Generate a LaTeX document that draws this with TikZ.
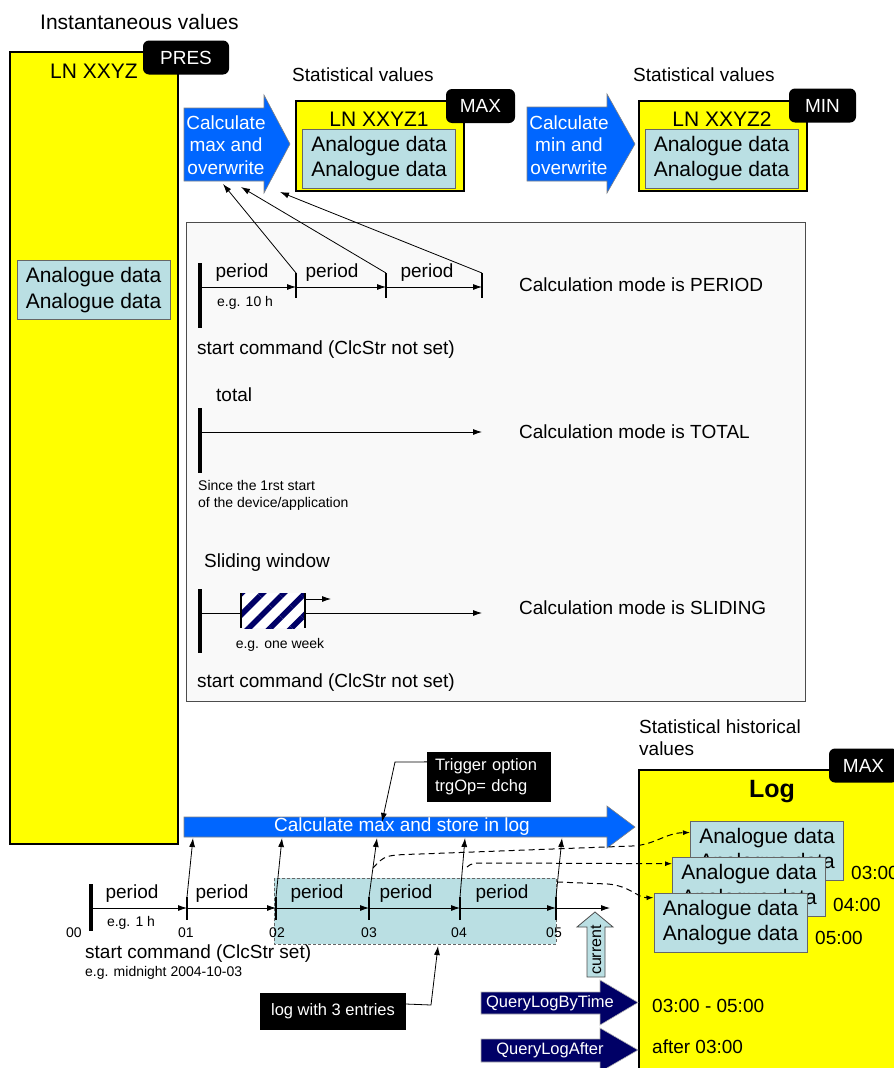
\documentclass[tikz,border=0pt]{standalone}
\usepackage{fontspec}
\setmainfont{Liberation Sans}
\usetikzlibrary{arrows.meta}
\usetikzlibrary{patterns.meta}
\usetikzlibrary{calc}
\tikzset{>={Latex[width=6pt,length=9pt]}}

\definecolor{lnyellow}{RGB}{255,255,0}
\definecolor{datacyan}{RGB}{186,223,227}
\definecolor{calcblue}{RGB}{0,102,255}
\definecolor{querynavy}{RGB}{0,0,102}
\definecolor{panelgray}{RGB}{249,249,249}

\tikzset{
  txt/.style={inner sep=0pt, font=\fontsize{19}{22.5}\selectfont},
  bigtxt/.style={inner sep=0pt, font=\fontsize{21}{25.5}\selectfont},
  smalltxt/.style={inner sep=0pt, font=\fontsize{14}{17}\selectfont},
  lnbox/.style={draw=black, line width=1.5pt, fill=lnyellow},
  databox/.style={draw=black!60, line width=1pt, fill=datacyan, bigtxt, align=center,
                  minimum width=153pt, minimum height=59pt},
  tagbox/.style={fill=black, rounded corners=6pt, text=white, txt, minimum height=34pt},
  notebox/.style={fill=black, text=white, inner sep=0pt, align=left,
                  font=\fontsize{16.5}{21}\selectfont},
  blockarrow/.style={fill=calcblue, draw=black!50, line width=0.6pt},
  queryarrow/.style={fill=querynavy, draw=black!30, line width=0.6pt},
  startbar/.style={line width=4pt},
  tickmark/.style={line width=1.8pt},
  axis/.style={line width=0.8pt},
  logline/.style={dashed, dash pattern=on 6pt off 4pt, line width=1pt,
                  -{Latex[width=5pt,length=7pt]}}
}

\begin{document}
\begin{tikzpicture}[x=1pt,y=-1pt]
  \useasboundingbox (0,0) rectangle (894,1068);

  % instantaneous values
  \node[bigtxt, anchor=west] (instlbl) at (40,22) {Instantaneous values};
  \draw[lnbox] (10,52) rectangle (178,844);
  \node[bigtxt] (lnmain) at (94,71) {LN XXYZ};
  \node[tagbox, minimum width=86pt] (pres) at (186,57.5) {PRES};
  \node[databox] (instdata) at (93.5,290) {Analogue data\\Analogue data};

  % statistical values, max
  \filldraw[blockarrow] (184,108) -- (264,108) -- (264,95) -- (290,144) -- (264,193) -- (264,181) -- (184,181) -- cycle;
  \node[txt, text=white, align=center] (calcmax) at (226,145) {Calculate\\max and\\overwrite};
  \node[txt, anchor=west] (statlblA) at (292,75) {Statistical values};
  \draw[lnbox] (296,101) rectangle (464,191);
  \node[bigtxt] (lnmax) at (379,119) {LN XXYZ1};
  \node[tagbox, minimum width=69pt] (maxtag) at (480.5,106) {MAX};
  \node[databox] (maxdata) at (379,158.5) {Analogue data\\Analogue data};

  % statistical values, min
  \filldraw[blockarrow] (527,107) -- (607,107) -- (607,94) -- (635,144) -- (607,193) -- (607,181) -- (527,181) -- cycle;
  \node[txt, text=white, align=center] (calcmin) at (569,145) {Calculate\\min and\\overwrite};
  \node[txt, anchor=west] (statlblB) at (633,75) {Statistical values};
  \draw[lnbox] (639,101) rectangle (807,191);
  \node[bigtxt] (lnmin) at (722,119) {LN XXYZ2};
  \node[tagbox, minimum width=67pt] (mintag) at (822.5,105.5) {MIN};
  \node[databox] (mindata) at (721.5,158.5) {Analogue data\\Analogue data};

  % calculation modes
  \draw[draw=black!70, fill=panelgray, line width=0.8pt] (186,222) rectangle (805,701);

  % period
  \coordinate (pstart) at (200,287);
  \coordinate (pa) at (296,287);
  \coordinate (pb) at (386,287);
  \coordinate (pc) at (482,287);
  \draw[startbar] (200,263) -- (200,328);
  \draw[axis,->] (pstart) -- (pa);
  \draw[axis,->] (pa) -- (pb);
  \draw[axis,->] (pb) -- (pc);
  \foreach \x/\n in {296/pa, 386/pb, 482/pc}
    \draw[tickmark] (\x,273) coordinate (\n-top) -- (\x,298);
  \node[txt] (perA) at (242,273) {period};
  \node[txt] (perB) at (332,273) {period};
  \node[txt] (perC) at (427,273) {period};
  \node[smalltxt, anchor=west] (per10h) at (217,303) {e.g. 10 h};
  \node[txt, anchor=west] (perstart) at (197,350) {start command (ClcStr not set)};
  \node[txt, anchor=west] (permode) at (519,285) {Calculation mode is PERIOD};

  \coordinate (calcinA) at (223,184);
  \coordinate (calcinB) at (241,187);
  \coordinate (calcinC) at (280,192);
  \draw[axis,->] (pa-top) -- (calcinA);
  \draw[axis,->] (pb-top) -- (calcinB);
  \draw[axis,->] (pc-top) -- (calcinC);

  % total
  \coordinate (tstart) at (200,432);
  \coordinate (tend) at (482,432);
  \node[txt, anchor=west] (totlbl) at (216,395) {total};
  \draw[startbar] (200,408) -- (200,473);
  \draw[axis,->] (tstart) -- (tend);
  \node[smalltxt, anchor=west, align=left] (totsince) at (198,495.5) {Since the 1rst start\\of the device/application};
  \node[txt, anchor=west] (totmode) at (519,432) {Calculation mode is TOTAL};

  % sliding
  \coordinate (sstart) at (200,613);
  \coordinate (send) at (482,613);
  \node[txt, anchor=west] (slidlbl) at (204,563) {Sliding window};
  \draw[startbar] (200,589) -- (200,653);
  \draw[axis,->] (sstart) -- (send);
  \fill[white] (241,593) rectangle (305,628);
  \fill[pattern={Lines[angle=45,distance=15pt,line width=5.5pt]}, pattern color=querynavy] (241,593) rectangle (305,628);
  \draw[line width=1.5pt] (241,593) -- (241,628);
  \draw[line width=1.5pt] (305,593) -- (305,628);
  \coordinate (winedge) at (305,599);
  \coordinate (winmove) at (331,599);
  \draw[axis,->] (winedge) -- (winmove);
  \node[smalltxt] (slidweek) at (280,645) {e.g. one week};
  \node[txt, anchor=west] (slidstart) at (197,683) {start command (ClcStr not set)};
  \node[txt, anchor=west] (slidmode) at (519,608) {Calculation mode is SLIDING};

  % statistical historical values
  \node[txt, anchor=west, align=left] (histlbl) at (639,737.5) {Statistical historical\\values};
  \draw[lnbox] (639,770) rectangle (910,1090);
  \node[tagbox, minimum width=69pt] (logmax) at (863.5,765.5) {MAX};
  \node[inner sep=0pt, font=\fontsize{25}{30}\selectfont\bfseries] (loglbl) at (772,792) {Log};
  \node[databox] (entryA) at (767,850.5) {Analogue data\\Analogue data};
  \node[databox] (entryB) at (749,886.5) {Analogue data\\Analogue data};
  \node[databox] (entryC) at (730.5,922.5) {Analogue data\\Analogue data};
  \node[txt, anchor=west] (timeA) at (851,873) {03:00};
  \node[txt, anchor=west] (timeB) at (833,905) {04:00};
  \node[txt, anchor=west] (timeC) at (815,938) {05:00};

  % log window
  \draw[fill=datacyan, draw=black!60, densely dashed, line width=0.8pt] (274,878) rectangle (556,944);

  % timeline
  \coordinate (h00) at (91,908);
  \coordinate (h01) at (187,908);
  \coordinate (h02) at (276,908);
  \coordinate (h03) at (369,908);
  \coordinate (h04) at (460,908);
  \coordinate (h05) at (556,908);
  \coordinate (hend) at (610,908);
  \draw[startbar] (91,884) -- (91,931);
  \draw[axis,->] (h00) -- (h01);
  \draw[axis,->] (h01) -- (h02);
  \draw[axis,->] (h02) -- (h03);
  \draw[axis,->] (h03) -- (h04);
  \draw[axis,->] (h04) -- (h05);
  \draw[axis,->] (h05) -- (hend);
  \foreach \x/\n in {187/h01, 276/h02, 369/h03, 460/h04, 556/h05}
    \draw[tickmark] (\x,897) coordinate (\n-top) -- (\x,920);
  \node[smalltxt] (lbl00) at (74,933) {00};
  \node[smalltxt] (lbl01) at (186,933) {01};
  \node[smalltxt] (lbl02) at (277,933) {02};
  \node[smalltxt] (lbl03) at (369,933) {03};
  \node[smalltxt] (lbl04) at (459,933) {04};
  \node[smalltxt] (lbl05) at (554,933) {05};
  \node[txt] (hperA) at (132,894) {period};
  \node[txt] (hperB) at (222,894) {period};
  \node[txt] (hperC) at (317,894) {period};
  \node[txt] (hperD) at (406,894) {period};
  \node[txt] (hperE) at (502,894) {period};
  \node[smalltxt] (h1h) at (131,923) {e.g. 1 h};
  \node[txt, anchor=west] (hstart) at (85,954) {start command (ClcStr set)};
  \node[smalltxt, anchor=west] (hmidnight) at (85,973) {e.g. midnight 2004-10-03};

  % calculate and store
  \filldraw[blockarrow] (184,817) -- (607,817) -- (607,806) -- (635,827) -- (607,848) -- (607,837) -- (184,837) -- cycle;
  \node[txt, text=white] (calcstore) at (402,827) {Calculate max and store in log};
  \coordinate (storeA) at (193,838);
  \coordinate (storeB) at (282,838);
  \coordinate (storeC) at (377,838);
  \coordinate (storeD) at (465,838);
  \coordinate (storeE) at (562,838);
  \draw[axis,->] (h01-top) -- (storeA);
  \draw[axis,->] (h02-top) -- (storeB);
  \draw[axis,->] (h03-top) -- (storeC);
  \draw[axis,->] (h04-top) -- (storeD);
  \draw[axis,->] (h05-top) -- (storeE);

  % entries into the log
  \coordinate (fromA) at (373,868);
  \coordinate (fromB) at (467,867);
  \coordinate (fromC) at (557,882);
  \draw[logline] (fromA) .. controls (385,855) .. (420,854) -- (632,846) .. controls (655,845) and (665,833) .. ($(entryA.north west)!0.2!(entryA.south west)$);
  \draw[logline] (fromB) .. controls (472,863) .. (490,863) -- ($(entryB.north west)!0.12!(entryB.south west)$);
  \draw[logline] (fromC) -- (608,884) .. controls (630,886) and (638,898) .. ($(entryC.north west)!0.085!(entryC.south west)$);

  % trigger option
  \node[notebox, minimum width=124pt, minimum height=50pt, text width=108pt] (trig) at (489,777) {Trigger option\\trgOp= dchg};
  \coordinate (trigtip) at (382,822);
  \draw[axis,->] ($(trig.north west)!0.2!(trig.south west)$) -- (395,762) -- (trigtip);

  % log with 3 entries
  \node[notebox, minimum width=146pt, minimum height=37pt, align=center] (entries) at (333,1011.5) {log with 3 entries};
  \coordinate (windowbot) at (438,946);
  \draw[axis,->] ($(entries.north east)!0.3!(entries.south east)$) -- (431,1005) -- (windowbot);

  % current
  \filldraw[fill=datacyan, draw=black!70, line width=0.8pt] (587,977) -- (587,927) -- (577,927) -- (595,912) -- (613,927) -- (605,927) -- (605,977) -- cycle;
  \node[inner sep=0pt, font=\fontsize{16}{19}\selectfont, rotate=90] (curlbl) at (596,950) {current};

  % queries
  \filldraw[queryarrow] (481,992) -- (600,992) -- (600,980) -- (638,1002.5) -- (600,1025) -- (600,1014) -- (481,1014) -- cycle;
  \node[inner sep=0pt, text=white, font=\fontsize{16.5}{20}\selectfont] (qtime) at (550,1003) {QueryLogByTime};
  \filldraw[queryarrow] (481,1039) -- (600,1039) -- (600,1028) -- (638,1050) -- (600,1072) -- (600,1062) -- (481,1062) -- cycle;
  \node[inner sep=0pt, text=white, font=\fontsize{16.5}{20}\selectfont] (qafter) at (550,1050) {QueryLogAfter};
  \node[txt, anchor=west] (qtimeres) at (652,1006) {03:00 - 05:00};
  \node[txt, anchor=west] (qafterres) at (652,1047) {after 03:00};

\end{tikzpicture}
\end{document}
